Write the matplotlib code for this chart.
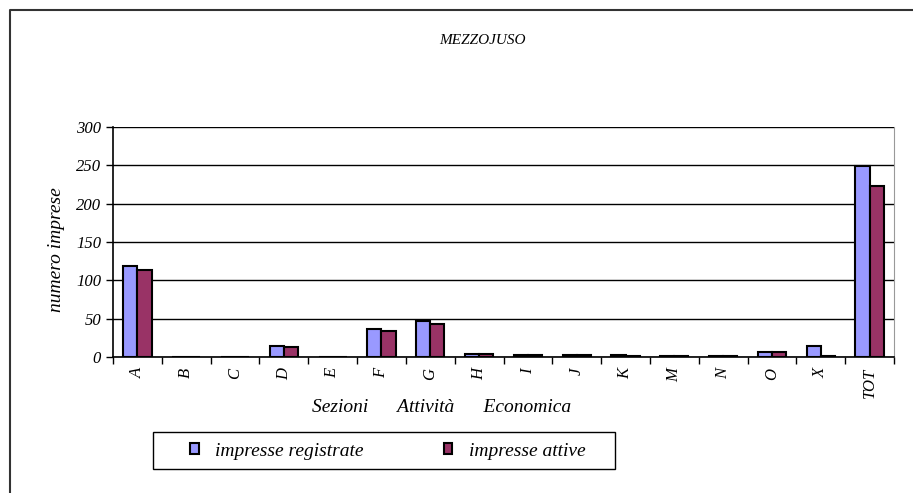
import numpy as np
import matplotlib
matplotlib.use('Agg')
import matplotlib.pyplot as plt
from matplotlib.lines import Line2D
from matplotlib.patches import Rectangle
from matplotlib.ticker import MultipleLocator

plt.rcParams['font.family'] = ['Liberation Serif', 'DejaVu Serif']

# dati
sezioni = ['A', 'B', 'C', 'D', 'E', 'F', 'G', 'H', 'I', 'J', 'K', 'M', 'N', 'O', 'X', 'TOT']
registrate = [119, 0, 0, 15, 0, 36, 47, 4, 2, 2, 2, 1, 1, 6, 14, 249]
attive = [114, 0, 0, 13, 0, 34, 43, 4, 2, 2, 1, 1, 1, 6, 1, 223]

fig = plt.figure(figsize=(9.13, 4.93), dpi=100)
ax = fig.add_axes([113 / 913, 1 - 357 / 493, (894 - 113) / 913, (357 - 127) / 493])

x = np.arange(len(sezioni))
w = 0.29
ax.bar(x - w / 2, registrate, w, color='#9999FF', edgecolor='black', linewidth=1.5,
       label='impresse registrate', zorder=3)
ax.bar(x + w / 2, attive, w, color='#993366', edgecolor='black', linewidth=1.5,
       label='impresse attive', zorder=3)

ax.set_xlim(-0.5, len(sezioni) - 0.5)
ax.set_ylim(0, 300)
ax.yaxis.set_major_locator(MultipleLocator(50))
ax.grid(axis='y', color='black', linewidth=1, zorder=0)

ax.set_xticks(x)
ax.set_xticklabels(sezioni, rotation=90, fontsize=12, style='italic')
ax.set_xticks(np.arange(-0.5, len(sezioni)), minor=True)
ax.tick_params(axis='x', which='major', length=0, pad=8)
ax.tick_params(axis='x', which='minor', length=5, width=1, direction='out')
ax.tick_params(axis='y', length=5, width=1, direction='out', labelsize=12)
for t in ax.get_yticklabels():
    t.set_style('italic')

ax.spines['top'].set_visible(False)
ax.spines['right'].set_color('#999999')
ax.spines['left'].set_linewidth(1.2)
ax.spines['bottom'].set_linewidth(1.2)

ax.set_ylabel('numero imprese', fontsize=14, style='italic')
ax.yaxis.set_label_coords(-0.0615, 0.465)
ax.set_xlabel('Sezioni      Attività      Economica', fontsize=14, style='italic')
ax.xaxis.set_label_coords(0.421, -0.183)

fig.text(482 / 913, 1 - 40 / 493, 'MEZZOJUSO', ha='center', va='center',
         fontsize=11, style='italic')

# legenda
fig.add_artist(Rectangle((153 / 913, 1 - 469 / 493), (615 - 153) / 913, 37 / 493,
                         transform=fig.transFigure, facecolor='white',
                         edgecolor='black', linewidth=1))
leg = fig.legend(loc='center left', bbox_to_anchor=(190 / 913, 1 - 451 / 493), ncol=2,
                 prop={'style': 'italic', 'size': 14}, frameon=False,
                 handlelength=0.45, handleheight=0.45, handletextpad=0.85,
                 columnspacing=4.1, borderpad=0, borderaxespad=0)
for p in leg.get_patches():
    p.set_linewidth(1.5)

# cornice esterna
fig.add_artist(Line2D([10 / 913, 10 / 913, 1.0], [0, 1 - 10 / 493, 1 - 10 / 493],
                      transform=fig.transFigure, color='#333333', linewidth=1.5))

fig.savefig('out.png', dpi=100)
